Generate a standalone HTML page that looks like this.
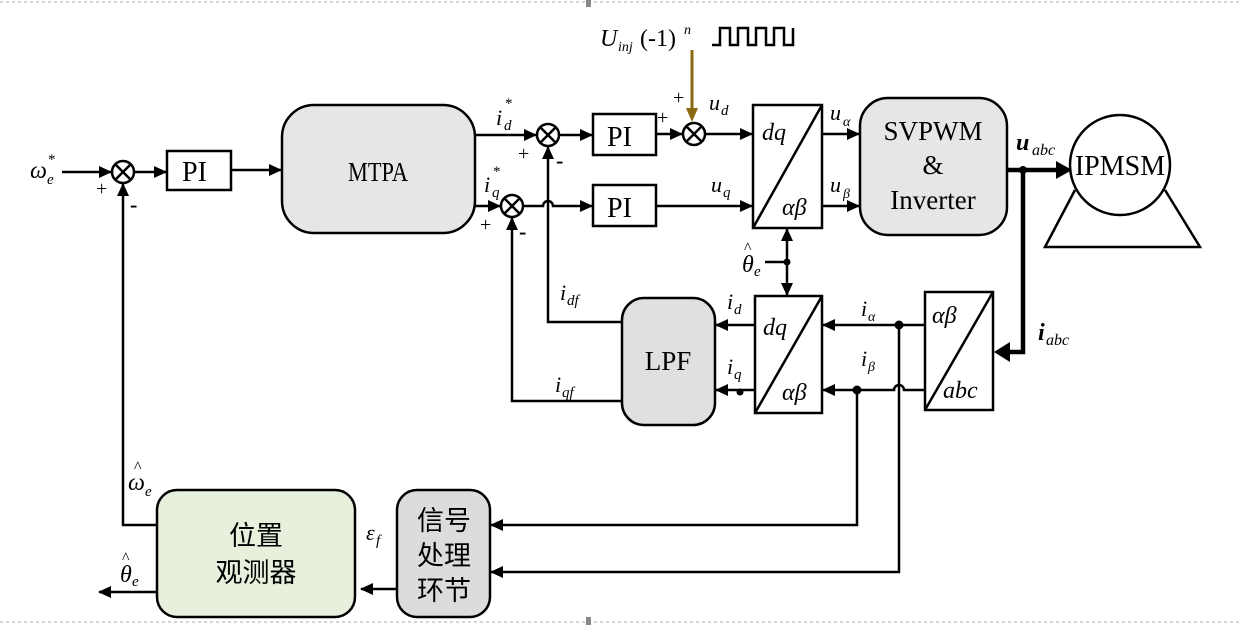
<!DOCTYPE html>
<html><head><meta charset="utf-8"><style>
body{margin:0;background:#fff;}
svg{display:block;}
text{font-family:"Liberation Serif","Noto Serif CJK SC",serif;fill:#000;}
.i{font-style:italic;}
.cjk{font-family:"Liberation Serif","Noto Sans CJK SC",sans-serif;}
</style></head><body>
<svg width="1242" height="635" viewBox="0 0 1242 635" xmlns="http://www.w3.org/2000/svg">
<defs>
<marker id="a" markerWidth="13" markerHeight="12" refX="12" refY="6" orient="auto" markerUnits="userSpaceOnUse" viewBox="0 0 13 12"><path d="M0,0 L13,6 L0,12 z" fill="#000"/></marker>
<marker id="b" markerWidth="12" markerHeight="12" refX="11" refY="6" orient="auto" markerUnits="userSpaceOnUse" viewBox="0 0 12 12"><path d="M0,0 L12,6 L0,12 z" fill="#000"/></marker>
</defs>
<line x1="0" y1="2" x2="1242" y2="2" stroke="#aaa" stroke-dasharray="3,3"/>
<line x1="0" y1="622" x2="1242" y2="622" stroke="#aaa" stroke-dasharray="3,3"/>
<rect x="586" y="0" width="5" height="7" fill="#888"/>
<rect x="586" y="617" width="5" height="8" fill="#888"/>

<g stroke="#000" stroke-width="2.5" fill="none">
<g fill="#fff">
<circle cx="123" cy="172" r="11"/><circle cx="548" cy="135" r="11"/><circle cx="512" cy="206" r="11"/><circle cx="694" cy="134" r="11"/>
</g>
<path d="M115,164 L131,180 M131,164 L115,180 M540,127 L556,143 M556,127 L540,143 M504,198 L520,214 M520,198 L504,214 M686,126 L702,142 M702,126 L686,142"/>
<rect x="167" y="151" width="64" height="39" fill="#fff"/>
<rect x="282" y="105" width="193" height="128" rx="32" fill="#e6e6e6"/>
<rect x="593" y="114" width="63" height="41" fill="#fff"/>
<rect x="593" y="185" width="63" height="41" fill="#fff"/>
<rect x="753" y="105" width="69" height="123" fill="#fff"/>
<path d="M753,228 L822,105"/>
<rect x="860" y="98" width="147" height="137" rx="28" fill="#e6e6e6"/>
<rect x="755" y="296" width="67" height="117" fill="#fff"/>
<path d="M755,413 L822,296"/>
<rect x="925" y="292" width="68" height="118" fill="#fff"/>
<path d="M925,410 L993,292"/>
<rect x="622" y="298" width="93" height="127" rx="22" fill="#e0e0e0"/>
<rect x="397" y="490" width="93" height="127" rx="20" fill="#dcdcdc"/>
<rect x="157" y="490" width="198" height="127" rx="20" fill="#e6f0dc"/>
<circle cx="1120" cy="165" r="50" fill="#fff"/>
<path d="M1075,190 L1045,247 L1200,247 L1165,190"/>
<path d="M62,172 L111,172" marker-end="url(#a)"/>
<path d="M134,172 L166,172" marker-end="url(#a)"/>
<path d="M231,170 L281,170" marker-end="url(#a)"/>
<path d="M475,135 L536,135" marker-end="url(#a)"/>
<path d="M475,206 L500,206" marker-end="url(#a)"/>
<path d="M559,135 L592,135" marker-end="url(#a)"/>
<path d="M523,206 L543,206 A5,5 0 0 1 553,206 L592,206" marker-end="url(#a)"/>
<path d="M656,134 L682,134" marker-end="url(#a)"/>
<path d="M705,134 L752,134" marker-end="url(#a)"/>
<path d="M656,206 L752,206" marker-end="url(#a)"/>
<path d="M822,134 L859,134" marker-end="url(#a)"/>
<path d="M822,206 L859,206" marker-end="url(#a)"/>
<path d="M765,262 L787,262"/>
<path d="M787,245 L787,280"/>
<path d="M787,245 L787,229" marker-end="url(#a)"/>
<path d="M787,280 L787,295" marker-end="url(#a)"/>
<path d="M925,325 L823,325" marker-end="url(#a)"/>
<path d="M925,390 L904,390 A5,5 0 0 0 894,390 L823,390" marker-end="url(#a)"/>
<path d="M755,325 L716,325" marker-end="url(#a)"/>
<path d="M755,390 L716,390" marker-end="url(#a)"/>
<path d="M622,322 L548,322 L548,147" marker-end="url(#a)"/>
<path d="M622,401 L512,401 L512,218" marker-end="url(#a)"/>
<path d="M857,390 L857,525 L491,525" marker-end="url(#a)"/>
<path d="M899,325 L899,572 L491,572" marker-end="url(#a)"/>
<path d="M397,589 L361,589" marker-end="url(#a)"/>
<path d="M157,525 L123,525 L123,184" marker-end="url(#a)"/>
<path d="M157,592 L99,592" marker-end="url(#a)"/>
<path d="M712,45 L720,45 L720,28 L730,28 L730,45 L738,45 L738,28 L748,28 L748,45 L756,45 L756,28 L766,28 L766,45 L774,45 L774,28 L784,28 L784,45 L793,45 L793,28" stroke-width="2.5"/>
</g>
<g stroke="#000" stroke-width="4.5" fill="none">
<path d="M1007,170 L1060,170"/>
<path d="M1023,170 L1023,352 L1006,352"/>
</g>
<path d="M994,352 L1010,342 L1010,362 z" fill="#000"/>
<path d="M1056,161 L1072,170 L1056,179 z" fill="#000"/>
<path d="M692,50 L692,110" stroke="#8a6a10" stroke-width="3" fill="none"/>
<path d="M686,108 L698,108 L692,122 z" fill="#8a6a10"/>
<g fill="#000">
<circle cx="1023" cy="170" r="4"/><circle cx="787" cy="262" r="3.5"/><circle cx="899" cy="325" r="4.5"/><circle cx="857" cy="390" r="4.5"/><circle cx="740" cy="392" r="3.5"/>
</g>
<text x="30" y="178" font-size="24" class="i">ω</text><text x="47" y="184" font-size="15" class="i">e</text><text x="48" y="164" font-size="15">*</text>
<text x="96" y="195" font-size="20">+</text>
<text x="130" y="212" font-size="22" font-weight="bold">-</text>
<text x="182" y="181" font-size="28">PI</text>
<text x="378" y="181" font-size="27" text-anchor="middle" textLength="60" lengthAdjust="spacingAndGlyphs">MTPA</text>
<text x="496" y="125" font-size="22" class="i">i</text><text x="504" y="130" font-size="15" class="i">d</text><text x="505" y="108" font-size="15">*</text>
<text x="484" y="192" font-size="22" class="i">i</text><text x="492" y="197" font-size="15" class="i">q</text><text x="493" y="176" font-size="15">*</text>
<text x="518" y="160" font-size="20">+</text>
<text x="556" y="168" font-size="22" font-weight="bold">-</text>
<text x="480" y="231" font-size="20">+</text>
<text x="519" y="239" font-size="22" font-weight="bold">-</text>
<text x="607" y="146" font-size="28">PI</text>
<text x="607" y="217" font-size="28">PI</text>
<text x="657" y="124" font-size="20">+</text>
<text x="673" y="104" font-size="20">+</text>
<text x="709" y="110" font-size="22" class="i">u</text><text x="721" y="115" font-size="15" class="i">d</text>
<text x="711" y="192" font-size="22" class="i">u</text><text x="723" y="197" font-size="15" class="i">q</text>
<text x="600" y="46" font-size="24" class="i">U</text><text x="618" y="51" font-size="14" class="i">inj</text>
<text x="640" y="46" font-size="24">(-1)</text><text x="684" y="34" font-size="14" class="i">n</text>
<text x="762" y="140" font-size="24" class="i">dq</text>
<text x="782" y="215" font-size="24" class="i">αβ</text>
<text x="830" y="120" font-size="22" class="i">u</text><text x="843" y="126" font-size="14" class="i">α</text>
<text x="830" y="192" font-size="22" class="i">u</text><text x="843" y="198" font-size="14" class="i">β</text>
<text x="933" y="140" font-size="27" text-anchor="middle">SVPWM</text>
<text x="933" y="174" font-size="27" text-anchor="middle">&amp;</text>
<text x="933" y="209" font-size="27" text-anchor="middle">Inverter</text>
<text x="1016" y="150" font-size="24" class="i" font-weight="bold">u</text><text x="1032" y="155" font-size="16" class="i">abc</text>
<text x="1120" y="175" font-size="28" text-anchor="middle">IPMSM</text>
<text x="742" y="272" font-size="24" class="i">θ</text><text x="744" y="253" font-size="16">^</text><text x="754" y="276" font-size="15" class="i">e</text>
<text x="763" y="335" font-size="24" class="i">dq</text>
<text x="782" y="400" font-size="24" class="i">αβ</text>
<text x="932" y="323" font-size="24" class="i">αβ</text>
<text x="943" y="398" font-size="24" class="i">abc</text>
<text x="861" y="316" font-size="22" class="i">i</text><text x="868" y="321" font-size="14" class="i">α</text>
<text x="861" y="366" font-size="22" class="i">i</text><text x="868" y="371" font-size="14" class="i">β</text>
<text x="1038" y="340" font-size="24" class="i" font-weight="bold">i</text><text x="1046" y="345" font-size="16" class="i">abc</text>
<text x="727" y="309" font-size="22" class="i">i</text><text x="734" y="314" font-size="15" class="i">d</text>
<text x="727" y="374" font-size="22" class="i">i</text><text x="734" y="379" font-size="15" class="i">q</text>
<text x="668" y="370" font-size="27" text-anchor="middle">LPF</text>
<text x="560" y="300" font-size="22" class="i">i</text><text x="567" y="305" font-size="15" class="i">df</text>
<text x="555" y="392" font-size="22" class="i">i</text><text x="562" y="397" font-size="15" class="i">qf</text>
<text x="128" y="490" font-size="24" class="i">ω</text><text x="134" y="472" font-size="16">^</text><text x="145" y="496" font-size="15" class="i">e</text>
<text x="120" y="582" font-size="24" class="i">θ</text><text x="122" y="563" font-size="16">^</text><text x="132" y="586" font-size="15" class="i">e</text>
<text x="366" y="540" font-size="22" class="i">ε</text><text x="376" y="545" font-size="15" class="i">f</text>
<text x="256" y="545" font-size="27" text-anchor="middle" class="cjk">位置</text>
<text x="256" y="582" font-size="27" text-anchor="middle" class="cjk">观测器</text>
<text x="444" y="530" font-size="27" text-anchor="middle" class="cjk">信号</text>
<text x="444" y="565" font-size="27" text-anchor="middle" class="cjk">处理</text>
<text x="444" y="600" font-size="27" text-anchor="middle" class="cjk">环节</text>
</svg>
</body></html>
